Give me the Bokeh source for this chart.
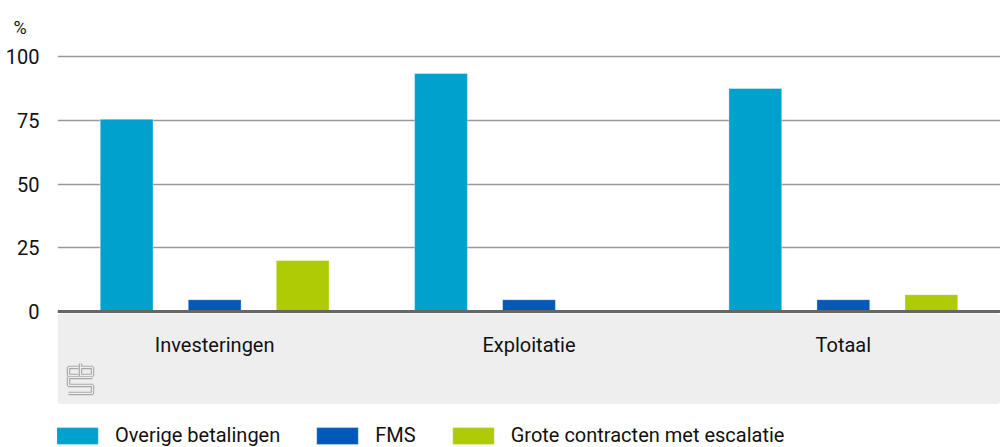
from bokeh.plotting import figure
from bokeh.models import (ColumnDataSource, FactorRange, Range1d, FixedTicker,
                          BoxAnnotation, Span, Legend, LegendItem)
from bokeh.transform import dodge
from bokeh.core.properties import value
from bokeh.embed import file_html
from bokeh.resources import INLINE

categories = ["Investeringen", "Exploitatie", "Totaal"]
overige = [75.4, 93.4, 87.5]
fms = [4.6, 4.6, 4.6]
grote = [20.0, 0.5, 6.6]
series_names = ["Overige betalingen", "FMS", "Grote contracten met escalatie"]
colors = ["#00a1cd", "#0058b8", "#afcb05"]
y_ticks = [0, 25, 50, 75, 100]

FONT = "Roboto"

src = ColumnDataSource(dict(cat=categories, overige=overige, fms=fms, grote=grote,
                            ylab=[-13.3] * len(categories)))

p = figure(width=1000, height=447, x_range=FactorRange(*categories, range_padding=0),
           y_range=Range1d(-53.4, 104.0), output_backend="svg", toolbar_location=None,
           min_border_left=57, min_border_right=0, min_border_top=46, min_border_bottom=0)
p.outline_line_color = None
p.background_fill_color = "white"
p.border_fill_color = "white"

# grey band below the axis
p.add_layout(BoxAnnotation(bottom=-36.3, top=-0.8, fill_color="#eeeeee", fill_alpha=1,
                           line_color=None, level="underlay", border_radius=4))

p.xgrid.visible = False
p.ygrid.ticker = FixedTicker(ticks=y_ticks[1:])
p.ygrid.grid_line_color = "#9a9a9a"
p.ygrid.grid_line_width = 1.5

p.xaxis.visible = False
p.yaxis.ticker = FixedTicker(ticks=y_ticks)
p.yaxis.axis_line_color = None
p.yaxis.major_tick_line_color = None
p.yaxis.minor_tick_line_color = None
p.yaxis.major_label_text_font = FONT
p.yaxis.major_label_text_font_size = "20px"
p.yaxis.major_label_text_color = "#111111"
p.yaxis.major_label_standoff = 12

offs = [-0.28, 0.0, 0.28]
fields = ["overige", "fms", "grote"]
renderers = []
for f, o, c in zip(fields, offs, colors):
    r = p.vbar(x=dodge("cat", o, range=p.x_range), top=f, width=0.168, source=src,
               fill_color=c, line_color="#ffffff", line_alpha=0.35, line_width=1)
    renderers.append(r)

# axis line at 0
p.add_layout(Span(location=0, dimension="width", line_color="#666666", line_width=3))

p.text(x="cat", y="ylab", text="cat", source=src, text_align="center",
       text_baseline="middle", text_font=value(FONT), text_font_size="20px",
       text_color="#111111")

# small cbs logo (decoration): outline in page pixels, converted to plot coordinates
logo_px = [[78, 68, 68, 78], [80, 80, 92, 92, 80], [92, 68, 68, 92, 92, 68]]
logo_py = [[367, 367, 375, 375], [363, 375, 375, 367, 367], [377, 377, 385, 385, 393, 393]]
logo_xs = [[(v - 57) / 314.33 for v in row] for row in logo_px]
logo_ys = [[(311 - v) / 2.548 for v in row] for row in logo_py]
p.multi_line(logo_xs, logo_ys, line_color="#a8a8a8", line_width=3.5)
p.multi_line(logo_xs, logo_ys, line_color="#eeeeee", line_width=1.2)

legend = Legend(items=[LegendItem(label=n, renderers=[r]) for n, r in zip(series_names, renderers)],
                orientation="horizontal", location=(-6, 0), glyph_width=52, glyph_height=21,
                label_standoff=12, spacing=31, padding=0, margin=0, label_height=21,
                label_text_font=FONT, label_text_font_size="20px", label_text_color="#111111",
                border_line_color=None, background_fill_alpha=0)
p.add_layout(legend)

p.title.text = "%"
p.title.align = "left"
p.title.offset = -44
p.title.standoff = 18
p.title.text_font = FONT
p.title.text_font_size = "18px"
p.title.text_font_style = "normal"
p.title.text_color = "#111111"

open("out.html", "w").write(file_html(p, INLINE))
